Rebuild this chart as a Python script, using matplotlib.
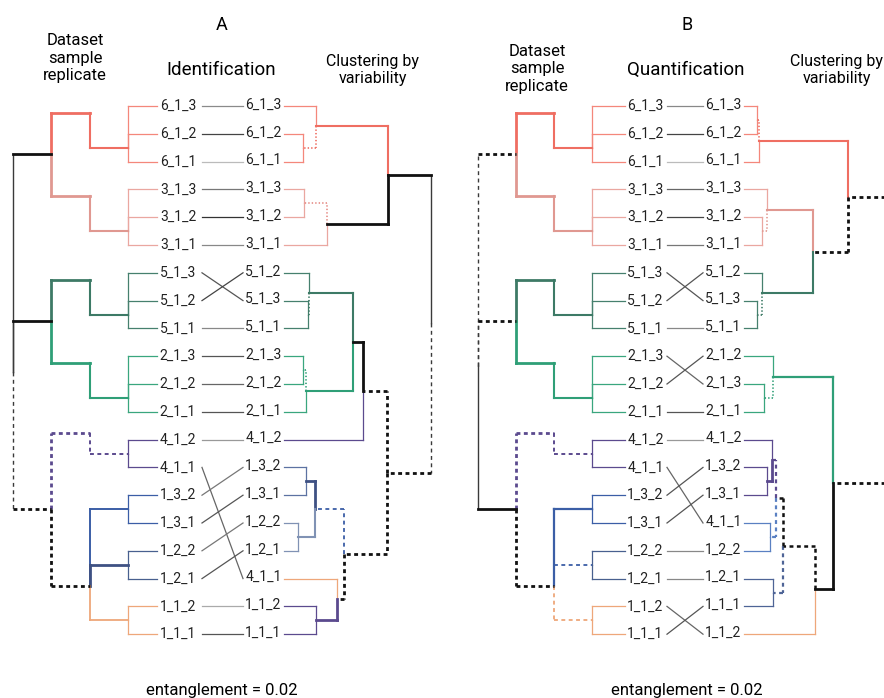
import matplotlib
matplotlib.use('Agg')
import matplotlib.pyplot as plt

plt.rcParams['font.family'] = ['Roboto', 'DejaVu Sans']
plt.rcParams['lines.scale_dashes'] = False

# ------------------------------------------------------------------ data
left_labels = ['6_1_3', '6_1_2', '6_1_1', '3_1_3', '3_1_2', '3_1_1',
               '5_1_3', '5_1_2', '5_1_1', '2_1_3', '2_1_2', '2_1_1',
               '4_1_2', '4_1_1', '1_3_2', '1_3_1', '1_2_2', '1_2_1',
               '1_1_2', '1_1_1']
right_labels_A = ['6_1_3', '6_1_2', '6_1_1', '3_1_3', '3_1_2', '3_1_1',
                  '5_1_2', '5_1_3', '5_1_1', '2_1_3', '2_1_2', '2_1_1',
                  '4_1_2', '1_3_2', '1_3_1', '1_2_2', '1_2_1', '4_1_1',
                  '1_1_2', '1_1_1']
right_labels_B = ['6_1_3', '6_1_2', '6_1_1', '3_1_3', '3_1_2', '3_1_1',
                  '5_1_2', '5_1_3', '5_1_1', '2_1_2', '2_1_3', '2_1_1',
                  '4_1_2', '1_3_2', '1_3_1', '4_1_1', '1_2_2', '1_2_1',
                  '1_1_1', '1_1_2']

# grey level of each connecting line (in left label order)
link_gray_A = ['#8a8a8a', '#444444', '#bbbbbb', '#777777', '#333333', '#888888',
               '#555555', '#444444', '#888888', '#555555', '#666666', '#555555',
               '#999999', '#666666', '#777777', '#555555', '#777777', '#555555',
               '#aaaaaa', '#555555']
link_gray_B = ['#888888', '#444444', '#bbbbbb', '#666666', '#444444', '#777777',
               '#555555', '#555555', '#888888', '#666666', '#555555', '#555555',
               '#999999', '#666666', '#555555', '#555555', '#888888', '#888888',
               '#666666', '#555555']

# left ("Dataset sample replicate") tree: node -> (level, position in leaf units)
left_nodes_A = {'G6': (1, 1.5), 'R6': (2, 0.25), 'G3': (1, 4.5), 'R3': (2, 3.25),
                'S63': (3, 1.73), 'G5': (1, 7.5), 'R5': (2, 6.25), 'G2': (1, 10.5),
                'R2': (2, 9.25), 'S52': (3, 7.73), 'G4': (1, 12.5), 'R4': (2, 11.75),
                'G13': (1, 14.5), 'G12': (1, 16.5), 'G11': (1, 18.5), 'R1': (2, 17.25),
                'S41': (3, 14.5), 'root': (4, 9.57)}
left_nodes_B = dict(left_nodes_A, root=(4, 9.35))

left_groups = {'G6': ['6_1_3', '6_1_2', '6_1_1'], 'G3': ['3_1_3', '3_1_2', '3_1_1'],
               'G5': ['5_1_3', '5_1_2', '5_1_1'], 'G2': ['2_1_3', '2_1_2', '2_1_1'],
               'G4': ['4_1_2', '4_1_1'], 'G13': ['1_3_2', '1_3_1'],
               'G12': ['1_2_2', '1_2_1'], 'G11': ['1_1_2', '1_1_1']}

# right ("Clustering by variability") trees: node -> (height, position in leaf units)
right_nodes_A = {'n6a': (0.19, 1.5), 'n6': (0.32, 0.72), 'n3a': (0.20, 3.5),
                 'n3': (0.43, 4.25), 'n63': (1.04, 2.48), 'n5a': (0.24, 7.5),
                 'n5': (0.25, 6.73), 'n2a': (0.19, 9.5), 'n2': (0.22, 10.25),
                 'n52': (0.69, 8.5), 'n524': (0.79, 10.25), 'n13': (0.22, 13.5),
                 'n12': (0.14, 15.5), 'n1': (0.31, 14.5), 'n11': (0.32, 18.5),
                 'nz': (0.53, 17.75), 'q': (0.60, 16.1), 'p': (1.03, 13.2),
                 'root': (1.47, 7.8)}
right_nodes_B = {'b6a': (0.13, 0.5), 'b6': (0.15, 1.26), 'b3a': (0.18, 4.5),
                 'b3': (0.23, 3.74), 'b5a': (0.13, 7.5), 'b5': (0.18, 6.73),
                 'b35': (0.69, 5.25), 'btop': (1.04, 3.27), 'b2a': (0.20, 10.5),
                 'b2': (0.29, 9.75), 'b13': (0.23, 13.5), 'b413': (0.28, 12.73),
                 'b4122': (0.26, 15.5), 'bs': (0.32, 14.1), 'b121': (0.29, 17.5),
                 'bv': (0.39, 15.83), 'bw': (0.71, 17.37), 'blow': (0.89, 13.56),
                 'root': (1.75, 8.5)}

right_parent_A = {'6_1_3': 'n6', '6_1_2': 'n6a', '6_1_1': 'n6a', '3_1_3': 'n3a',
                  '3_1_2': 'n3a', '3_1_1': 'n3', '5_1_2': 'n5', '5_1_3': 'n5a',
                  '5_1_1': 'n5a', '2_1_3': 'n2a', '2_1_2': 'n2a', '2_1_1': 'n2',
                  '4_1_2': 'n524', '1_3_2': 'n13', '1_3_1': 'n13', '1_2_2': 'n12',
                  '1_2_1': 'n12', '4_1_1': 'nz', '1_1_2': 'n11', '1_1_1': 'n11'}
right_parent_B = {'6_1_3': 'b6a', '6_1_2': 'b6a', '6_1_1': 'b6', '3_1_3': 'b3',
                  '3_1_2': 'b3a', '3_1_1': 'b3a', '5_1_2': 'b5', '5_1_3': 'b5a',
                  '5_1_1': 'b5a', '2_1_2': 'b2', '2_1_3': 'b2a', '2_1_1': 'b2a',
                  '4_1_2': 'b413', '1_3_2': 'b13', '1_3_1': 'b13', '4_1_1': 'b4122',
                  '1_2_2': 'b4122', '1_2_1': 'b121', '1_1_1': 'b121', '1_1_2': 'bw'}

# ------------------------------------------------------------------ styles
RED_L, RED = '#f4877b', '#ef6e62'
PINK_L, PINK = '#eaa7a0', '#e09891'
DGREEN_L, DGREEN = '#46806e', '#3d7a66'
GREEN_L, GREEN = '#3aa67e', '#2f9f77'
PURPLE = '#5b4a8e'
BLUE = '#3b5ea6'
NAVY = '#3e5183'
SLATE = '#8092b4'
SLATE2 = '#5c72a2'
BLUE_B = '#5a80c2'
SLATE_B = '#4e6496'
ORANGE = '#eea77a'
BLACK = '#111111'
DASH = (0, (2.8, 2.5))
DOT = (0, (1.0, 1.5))

group_color = {'G6': RED_L, 'G3': PINK_L, 'G5': DGREEN_L, 'G2': GREEN_L, 'G4': PURPLE,
               'G13': BLUE, 'G12': '#48608f', 'G11': ORANGE}

left_edges_A = [('G6', 'R6', RED, '-', 1.5), ('R6', 'S63', RED, '-', 2.0),
                ('G3', 'R3', PINK, '-', 1.5), ('R3', 'S63', PINK, '-', 2.0),
                ('G5', 'R5', DGREEN, '-', 1.5), ('R5', 'S52', DGREEN, '-', 2.0),
                ('G2', 'R2', GREEN, '-', 1.5), ('R2', 'S52', GREEN, '-', 2.0),
                ('G4', 'R4', PURPLE, DASH, 1.4), ('R4', 'S41', PURPLE, DASH, 2.0),
                ('G13', 'R1', BLUE, '-', 1.4), ('G12', 'R1', NAVY, '-', 2.0),
                ('G11', 'R1', ORANGE, '-', 1.3), ('R1', 'S41', BLACK, DASH, 2.0),
                ('S63', 'root', BLACK, '-', 2.0), ('S52', 'root', BLACK, '-', 2.0),
                ('S41', 'root', BLACK, DASH, 2.0)]
left_edges_B = [('G6', 'R6', RED, '-', 1.5), ('R6', 'S63', RED, '-', 2.0),
                ('G3', 'R3', PINK, '-', 1.5), ('R3', 'S63', PINK, '-', 2.0),
                ('G5', 'R5', DGREEN, '-', 1.5), ('R5', 'S52', DGREEN, '-', 2.0),
                ('G2', 'R2', GREEN, '-', 1.5), ('R2', 'S52', GREEN, '-', 2.0),
                ('G4', 'R4', PURPLE, DASH, 1.4), ('R4', 'S41', PURPLE, DASH, 2.0),
                ('G13', 'R1', BLUE, '-', 1.6), ('G12', 'R1', BLUE, DASH, 1.3),
                ('G11', 'R1', ORANGE, DASH, 1.3), ('R1', 'S41', BLACK, DASH, 2.0),
                ('S63', 'root', BLACK, DASH, 2.0), ('S52', 'root', BLACK, DASH, 2.0),
                ('S41', 'root', BLACK, '-', 2.0)]

right_leaf_color_A = {'6': RED_L, '3': PINK_L, '5': DGREEN_L, '2': GREEN_L,
                      '4_1_2': PURPLE, '1_3': SLATE2, '1_2': SLATE, '4_1_1': ORANGE,
                      '1_1': PURPLE}
right_leaf_color_B = {'6': RED_L, '3': PINK_L, '5': DGREEN_L, '2': GREEN_L,
                      '4_1_2': PURPLE, '1_3': PURPLE, '4_1_1': BLUE_B, '1_2_2': BLUE_B,
                      '1_2_1': SLATE_B, '1_1_1': SLATE_B, '1_1_2': ORANGE}

right_edges_A = [('n6a', 'n6', RED, DOT, 1.2), ('n6', 'n63', RED, '-', 1.5),
                 ('n3a', 'n3', '#e58c86', DOT, 1.2), ('n3', 'n63', BLACK, '-', 2.0),
                 ('n63', 'root', BLACK, '-', 2.0),
                 ('n5a', 'n5', DGREEN, DOT, 1.2), ('n5', 'n52', DGREEN, '-', 1.5),
                 ('n2a', 'n2', GREEN, DOT, 1.2), ('n2', 'n52', GREEN, '-', 1.5),
                 ('n52', 'n524', BLACK, '-', 2.0), ('n524', 'p', BLACK, DASH, 2.0),
                 ('n13', 'n1', NAVY, '-', 2.0), ('n12', 'n1', SLATE, '-', 1.5),
                 ('n1', 'q', BLUE, DASH, 1.3), ('n11', 'nz', PURPLE, '-', 2.0),
                 ('nz', 'q', BLACK, DASH, 2.0), ('q', 'p', BLACK, DASH, 2.0),
                 ('p', 'root', BLACK, DASH, 2.0)]
right_edges_B = [('b6a', 'b6', RED, DOT, 1.2), ('b6', 'btop', RED, '-', 1.5),
                 ('b3a', 'b3', PINK, DOT, 1.2), ('b3', 'b35', PINK, '-', 1.5),
                 ('b5a', 'b5', DGREEN, DOT, 1.2), ('b5', 'b35', DGREEN, '-', 1.5),
                 ('b35', 'btop', BLACK, DASH, 2.0), ('btop', 'root', BLACK, DASH, 2.0),
                 ('b2a', 'b2', GREEN, DOT, 1.2), ('b2', 'blow', GREEN, '-', 1.6),
                 ('b13', 'b413', PURPLE, '-', 2.0), ('b413', 'bs', PURPLE, DASH, 1.6),
                 ('b4122', 'bs', BLUE_B, DASH, 1.6), ('bs', 'bv', BLACK, DASH, 1.8),
                 ('b121', 'bv', SLATE_B, DASH, 1.6), ('bv', 'bw', BLACK, DASH, 1.8),
                 ('bw', 'blow', BLACK, '-', 2.0), ('blow', 'root', BLACK, DASH, 2.0)]


def leaf_color(lab, table):
    for key in (lab, lab[:3], lab[0]):
        if key in table:
            return table[key]
    return '#888888'


# ------------------------------------------------------------------ layout
W, H = 884, 698
Y0, DY = 106.0, 27.8           # pixel row of first leaf, row spacing

fig = plt.figure(figsize=(W / 100, H / 100), dpi=100)
ax = fig.add_axes([0, 0, 1, 1])
ax.set_xlim(0, W)
ax.set_ylim((H - Y0) / DY, -Y0 / DY)
ax.axis('off')

panels = [
    dict(title='A', mid='Identification', right=right_labels_A, gray=link_gray_A,
         lnodes=left_nodes_A, ledges=left_edges_A, rnodes=right_nodes_A,
         redges=right_edges_A, rparent=right_parent_A, rcol=right_leaf_color_A,
         leafend=157, l1=128, step=38.3, lab1=178, link=(202, 243), lab2=263.5,
         stub=284, title_x=222, ds=(75, 58), clus=(373, 70)),
    dict(title='B', mid='Quantification', right=right_labels_B, gray=link_gray_B,
         lnodes=left_nodes_B, ledges=left_edges_B, rnodes=right_nodes_B,
         redges=right_edges_B, rparent=right_parent_B, rcol=right_leaf_color_B,
         leafend=625, l1=592, step=38.0, lab1=645.5, link=(667, 703), lab2=723.5,
         stub=744, title_x=687, ds=(537, 69), clus=(837, 70)),
]


def seg(x, y, color, ls, lw):
    ax.plot(x, y, color=color, linestyle=ls, linewidth=lw,
            solid_capstyle='projecting', dash_capstyle='butt')


def draw_edge(xp, yp, xc, yc, color, ls, lw, is_root):
    vcol, vlw = (('#3a3a3a', 1.0) if is_root else (color, lw))
    seg([xp, xp], [yp, yc], vcol, ls, vlw)
    seg([xp, xc], [yc, yc], color, ls, lw)


for P in panels:
    lpos = {lab: i for i, lab in enumerate(left_labels)}
    rpos = {lab: i for i, lab in enumerate(P['right'])}

    # ---- left tree
    def lx(level, P=P):
        return P['l1'] - (level - 1) * P['step']
    for g, leaves in left_groups.items():
        lev, gp = P['lnodes'][g]
        for lab in leaves:
            draw_edge(lx(lev), gp, P['leafend'], lpos[lab], group_color[g], '-', 0.9, False)
    for child, parent, col, ls, lw in P['ledges']:
        cl, cp = P['lnodes'][child]
        pl, pp = P['lnodes'][parent]
        draw_edge(lx(pl), pp, lx(cl), cp, col, ls, lw, parent == 'root')

    # ---- right tree
    def rx(h, P=P):
        return P['stub'] + h * 100.0
    for lab, parent in P['rparent'].items():
        ph, pp = P['rnodes'][parent]
        draw_edge(rx(ph), pp, P['stub'], rpos[lab], leaf_color(lab, P['rcol']), '-', 0.9, False)
    for child, parent, col, ls, lw in P['redges']:
        ch, cp = P['rnodes'][child]
        ph, pp = P['rnodes'][parent]
        draw_edge(rx(ph), pp, rx(ch), cp, col, ls, lw, parent == 'root')

    # ---- labels and connecting lines
    for lab in left_labels:
        ax.text(P['lab1'], lpos[lab], lab, ha='center', va='center', fontsize=10, color='#222222')
    for lab in P['right']:
        ax.text(P['lab2'], rpos[lab] - 0.05, lab, ha='center', va='center', fontsize=10,
                color='#222222')
    for i, lab in enumerate(left_labels):
        ax.plot(P['link'], [lpos[lab], rpos[lab]], color=P['gray'][i], linewidth=0.9)

    # ---- texts
    def fx(x):
        return x / W

    def fy(y):
        return 1 - y / H
    fig.text(fx(P['title_x']), fy(25), P['title'], ha='center', va='center', fontsize=13)
    fig.text(fx(P['title_x'] - 1), fy(70), P['mid'], ha='center', va='center', fontsize=13.5)
    fig.text(fx(P['ds'][0]), fy(P['ds'][1]), 'Dataset\nsample\nreplicate', ha='center',
             va='center', fontsize=12, linespacing=1.2)
    fig.text(fx(P['clus'][0]), fy(P['clus'][1]), 'Clustering by\nvariability', ha='center',
             va='center', fontsize=11.5, linespacing=1.15)
    fig.text(fx(P['title_x']), fy(690), 'entanglement = 0.02', ha='center', va='center',
             fontsize=12)

fig.savefig('out.png', dpi=100)
